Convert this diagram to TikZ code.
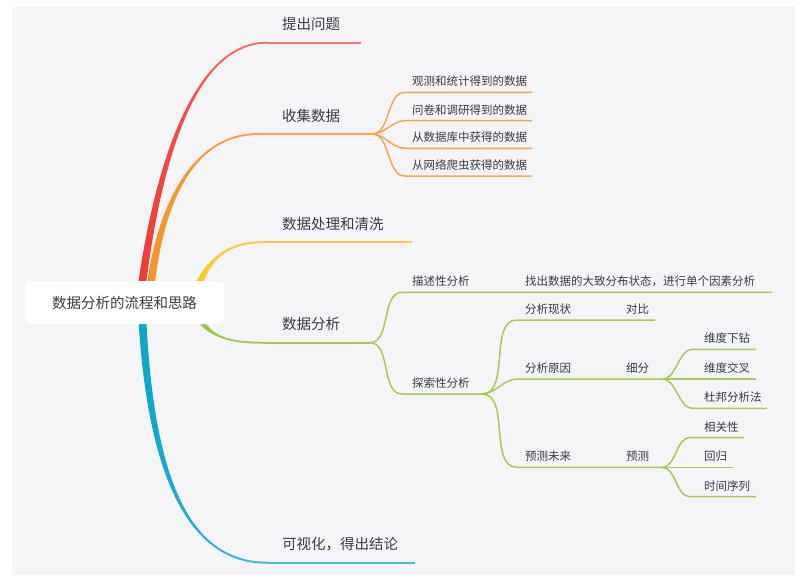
\documentclass[tikz,border=0pt]{standalone}
\usepackage{fontspec}
\setmainfont{Noto Sans CJK SC}
\usetikzlibrary{calc}

\definecolor{bgpanel}{HTML}{F5F5F8}
\definecolor{ink}{HTML}{363B45}
\definecolor{cred}{HTML}{EE3B36}
\definecolor{credl}{HTML}{F47575}
\definecolor{corange}{HTML}{F5922A}
\definecolor{corangel}{HTML}{F8A54E}
\definecolor{cyellow}{HTML}{FFC62E}
\definecolor{cyellowl}{HTML}{FCCB45}
\definecolor{cgreen}{HTML}{98C441}
\definecolor{cgreenl}{HTML}{A6CB55}
\definecolor{cblue}{HTML}{0AA6C9}
\definecolor{cbluel}{HTML}{45BBDA}

% tapered main branch: colour, end colour, start, control 1, control 2, end, side
\newcommand{\mainbranch}[7]{%
  \shade[left color=#1, right color=#2]
    ($(#3)+(-4,0)$) .. controls ($(#4)+(-3,0)$) and ($(#5)+(0,#7)$) .. ($(#6)+(0,#7)$)
    -- ($(#6)+(0,{-(#7)})$) .. controls ($(#5)+(0,{-(#7)})$) and ($(#4)+(3,0)$) .. ($(#3)+(4,0)$) -- cycle;}

\begin{document}
\begin{tikzpicture}[x=1pt, y=-1pt,
  big/.style={font=\fontsize{14.5pt}{17pt}\selectfont, text=ink, anchor=west, inner sep=0pt},
  small/.style={font=\fontsize{11.5pt}{14pt}\selectfont, text=ink, anchor=west, inner sep=0pt},
  rootbox/.style={fill=white, rounded corners=6pt, minimum width=199pt, minimum height=43pt,
                  inner sep=0pt, font=\fontsize{14.5pt}{17pt}\selectfont, text=ink},
  trunk/.style={line width=2pt},
  twig/.style={line width=1.5pt},
  fork/.style={out=0, in=180, looseness=0.9}]
\useasboundingbox (0,0) rectangle (795,576);
\fill[bgpanel] (12,7) rectangle (795,575);
% main branches (start under the root box)
\coordinate (r0) at (141,292); \coordinate (r1) at (267,42.7); \coordinate (r2) at (361,42.7);
\coordinate (o0) at (150,292); \coordinate (o1) at (258,134); \coordinate (ofk) at (372,134);
\coordinate (y0) at (195,295); \coordinate (y1) at (262,242.3); \coordinate (y2) at (412,242.3);
\coordinate (g0) at (195,310); \coordinate (g1) at (262,342.7); \coordinate (gfk) at (370,342.7);
\coordinate (b0) at (142,312); \coordinate (b1) at (267,562.7); \coordinate (b2) at (415,562.7);
\mainbranch{cred}{credl}{r0}{158,160}{195,42.7}{r1}{-1}
\mainbranch{corange}{corangel}{o0}{160,200}{195,134}{o1}{-1}
\mainbranch{cyellow}{cyellowl}{y0}{205,262}{225,242.3}{y1}{-1}
\mainbranch{cgreen}{cgreenl}{g0}{205,335}{225,342.7}{g1}{1}
\mainbranch{cblue}{cbluel}{b0}{150,480}{190,562.7}{b1}{1}
\draw[trunk, credl] (r1) -- (r2);
\draw[trunk, corangel] (o1) -- (ofk);
\draw[trunk, cyellowl] (y1) -- (y2);
\draw[trunk, cgreenl] (g1) -- (gfk);
\draw[trunk, cbluel] (b1) -- (b2);
\node[big] (ask) at (282,24.2) {提出问题};
\node[big] (collect) at (282,115.5) {收集数据};
\node[big] (clean) at (282,223.8) {数据处理和清洗};
\node[big] (analyse) at (282,324.2) {数据分析};
\node[big] (visual) at (282,544.2) {可视化，得出结论};
% collecting data
\foreach \k/\yy/\txt in {1/92.3/观测和统计得到的数据, 2/120.7/问卷和调研得到的数据,
                         3/148.3/从数据库中获得的数据, 4/176/从网络爬虫获得的数据} {
  \coordinate (c\k s) at (405,\yy); \coordinate (c\k e) at (532,\yy);
  \draw[twig, corangel] (ofk) to[fork] (c\k s) -- (c\k e);
  \node[small] (c\k) at (412,\yy-11) {\txt};
}
% analysis
\coordinate (d0) at (402,292.3); \coordinate (d1) at (482,292.3); \coordinate (d2) at (772,292.3);
\coordinate (e0) at (402,394); \coordinate (efk) at (482,394);
\draw[twig, cgreenl] (gfk) to[fork] (d0) -- (d1) -- (d2);
\draw[twig, cgreenl] (gfk) to[fork] (e0) -- (efk);
\node[small] (desc) at (412,281.3) {描述性分析};
\node[small] (descnote) at (525,281.3) {找出数据的大致分布状态，进行单个因素分析};
\node[small] (explore) at (412,383) {探索性分析};
\coordinate (p0) at (517,320); \coordinate (p1) at (616,320); \coordinate (p2) at (655,320);
\coordinate (q0) at (517,379); \coordinate (q1) at (616,379); \coordinate (qfk) at (662,379);
\coordinate (f0) at (517,467.3); \coordinate (f1) at (616,467.3); \coordinate (ffk) at (662,467.3);
\draw[twig, cgreenl] (efk) to[fork] (p0) -- (p1) -- (p2);
\draw[twig, cgreenl] (efk) to[fork] (q0) -- (q1) -- (qfk);
\draw[twig, cgreenl] (efk) to[fork] (f0) -- (f1) -- (ffk);
\node[small] (now) at (525,309) {分析现状};
\node[small] (cmp) at (626,309) {对比};
\node[small] (why) at (525,368) {分析原因};
\node[small] (split) at (626,368) {细分};
\node[small] (future) at (525,456.3) {预测未来};
\node[small] (pred) at (626,456.3) {预测};
% splitting
\foreach \k/\yy/\xe/\txt in {a/349.3/756/维度下钻, b/379/756/维度交叉, c/408.3/767/杜邦分析法} {
  \coordinate (q\k s) at (693,\yy); \coordinate (q\k e) at (\xe,\yy);
  \draw[twig, cgreenl] (qfk) to[fork] (q\k s) -- (q\k e);
  \node[small] (q\k) at (704,\yy-11) {\txt};
}
% predicting
\foreach \k/\yy/\xe/\txt in {a/437.7/744/相关性, b/467.3/733/回归, c/496.7/756/时间序列} {
  \coordinate (f\k s) at (690,\yy); \coordinate (f\k e) at (\xe,\yy);
  \draw[twig, cgreenl] (ffk) to[fork] (f\k s) -- (f\k e);
  \node[small] (f\k) at (704,\yy-11) {\txt};
}
% root on top
\node[rootbox] (root) at (124.5,302.5) {数据分析的流程和思路};
\end{tikzpicture}
\end{document}
